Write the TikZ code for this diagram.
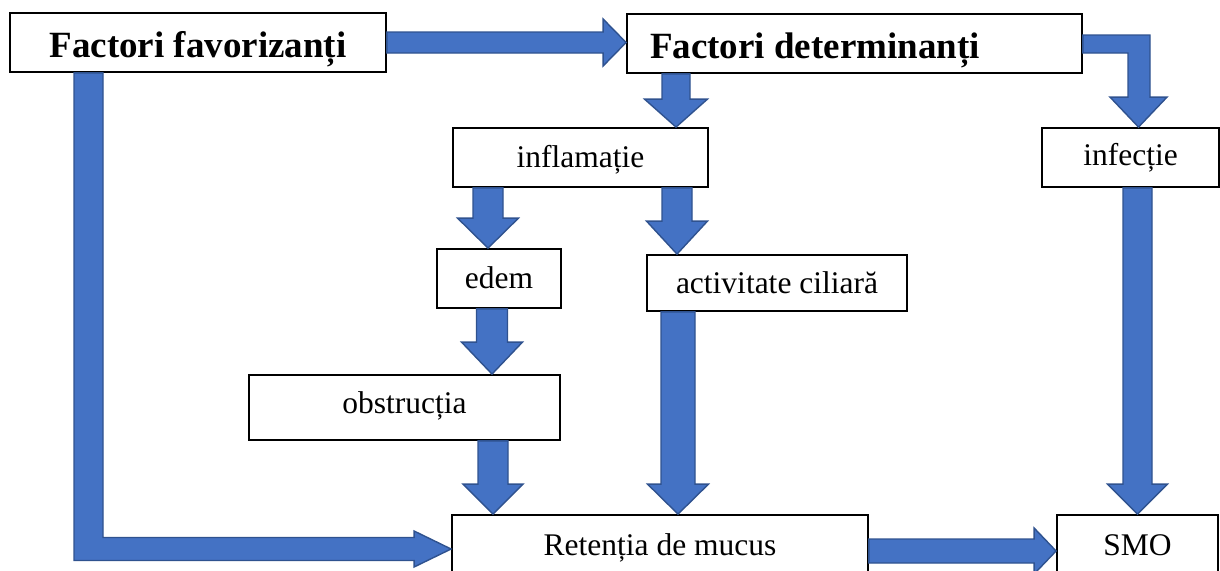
\documentclass[tikz,border=0pt]{standalone}
\usepackage{fontspec}
\setmainfont{Liberation Serif}
\usetikzlibrary{calc}
\definecolor{arrfill}{HTML}{4472C4}
\definecolor{arrdraw}{HTML}{2F528F}
\tikzset{
  box/.style={draw=black, line width=1.8pt, fill=white, inner sep=0pt, anchor=center,
              font=\fontsize{31.5}{36}\selectfont, text depth=0pt, text height=16pt},
  bl/.style={text depth=0pt, text height=#1},
  bigbox/.style={box, font=\fontsize{37}{42}\selectfont\bfseries, text height=29pt},
  blockarrow/.style={fill=arrfill, draw=arrdraw, line width=1.4pt, line join=miter}
}
% vertical block arrow: #1 x, #2 from, #3 to, #4 shaft half, #5 head half, #6 head length
\newcommand\arrv[6]{%
  \path[blockarrow] let \p1=(#2), \p2=(#3) in
    (#1pt-#4pt,\y1) -- (#1pt+#4pt,\y1) -- (#1pt+#4pt,\y2+#6pt) -- (#1pt+#5pt,\y2+#6pt)
    -- (#1pt,\y2) -- (#1pt-#5pt,\y2+#6pt) -- (#1pt-#4pt,\y2+#6pt) -- cycle;}
% horizontal block arrow: #1 y, #2 from, #3 to, #4 shaft half, #5 head half, #6 head length
\newcommand\arrh[6]{%
  \path[blockarrow] let \p1=(#2), \p2=(#3) in
    (\x1,-#1pt+#4pt) -- (\x2-#6pt,-#1pt+#4pt) -- (\x2-#6pt,-#1pt+#5pt) -- (\x2,-#1pt)
    -- (\x2-#6pt,-#1pt-#5pt) -- (\x2-#6pt,-#1pt-#4pt) -- (\x1,-#1pt-#4pt) -- cycle;}
\begin{document}
\begin{tikzpicture}[x=1pt,y=-1pt]
\useasboundingbox (0,0) rectangle (1220,570);
\clip (0,0) rectangle (1220,570);
% boxes
\node[bigbox, minimum width=376pt, minimum height=59pt] (fav) at (198,42.5) {Factori favorizanți};
\node[bigbox, minimum height=59pt, inner xsep=23pt] (det) at (854.5,43.5) {\makebox[409pt][l]{Factori determinanți}};
\node[box, bl=19pt, minimum width=255pt, minimum height=59pt] (infl) at (580.5,157.5) {inflamație};
\node[box, bl=15pt, minimum width=177pt, minimum height=59pt] (inf) at (1130.5,157.5) {infecție};
\node[box, bl=19pt, minimum width=124pt, minimum height=59pt] (edem) at (499,278.5) {edem};
\node[box, bl=20pt, minimum width=260pt, minimum height=56pt] (act) at (777,283) {activitate ciliară};
\node[box, bl=11pt, minimum width=311pt, minimum height=65pt] (obs) at (404.5,407.5) {obstrucția};
\node[box, bl=12pt, minimum width=416pt, minimum height=68pt] (ret) at (660,549) {Retenția de mucus};
\node[box, bl=12pt, minimum width=161pt, minimum height=68pt] (smo) at (1137.5,549) {SMO};
% straight arrows
\arrh{42.5}{fav.east}{det.west}{10.5}{23.5}{23}
\arrv{676}{det.south}{infl.north}{14}{31.5}{28}
\arrv{488}{infl.south}{edem.north}{15}{30.5}{30}
\arrv{677}{infl.south}{act.north}{15}{30.5}{33}
\arrv{492}{edem.south}{obs.north}{15.5}{30.5}{32}
\arrv{493}{obs.south}{ret.north}{15}{30}{30}
\arrv{678}{act.south}{ret.north}{17}{30.5}{30}
\arrv{1137.5}{inf.south}{smo.north}{14.5}{30}{30}
\arrh{551}{ret.east}{smo.west}{12}{23}{22}
% L-shaped arrow: favorizanti -> retentia
\path[blockarrow] let \p1=(fav.south), \p2=(ret.west) in
  (74pt,\y1) -- (103pt,\y1) -- (103pt,\y2+11.5pt) -- (\x2-37pt,\y2+11.5pt) -- (\x2-37pt,\y2+18pt)
  -- (\x2,\y2) -- (\x2-37pt,\y2-18pt) -- (\x2-37pt,\y2-11.5pt) -- (74pt,\y2-11.5pt) -- cycle;
% L-shaped arrow: determinanti -> infectie
\path[blockarrow] let \p1=(det.east), \p2=(inf.north) in
  (\x1,-35pt) -- (1150pt,-35pt) -- (1150pt,\y2+30pt) -- (1167pt,\y2+30pt) -- (1138.5pt,\y2)
  -- (1110pt,\y2+30pt) -- (1128pt,\y2+30pt) -- (1128pt,-53pt) -- (\x1,-53pt) -- cycle;
\end{tikzpicture}
\end{document}
